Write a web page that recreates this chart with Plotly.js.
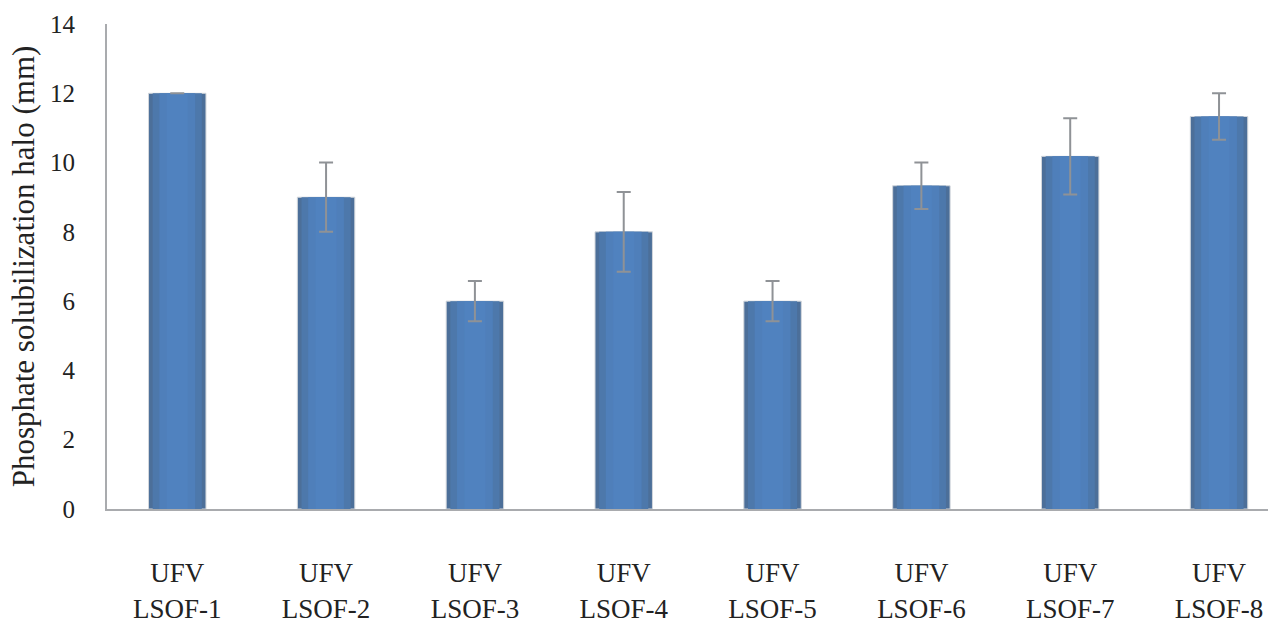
<!DOCTYPE html>
<html>
<head>
<meta charset="utf-8">
<script src="https://cdn.plot.ly/plotly-3.0.1.min.js"></script>
<style>
  html, body { margin: 0; padding: 0; background: #ffffff; }
  #chart { width: 1268px; height: 629px; }
</style>
</head>
<body>
<div id="chart"></div>
<script>
// ---- data ----
const categories = ["UFV LSOF-1", "UFV LSOF-2", "UFV LSOF-3", "UFV LSOF-4",
                    "UFV LSOF-5", "UFV LSOF-6", "UFV LSOF-7", "UFV LSOF-8"];
const tickLabels = ["UFV<br>LSOF-1", "UFV<br>LSOF-2", "UFV<br>LSOF-3", "UFV<br>LSOF-4",
                    "UFV<br>LSOF-5", "UFV<br>LSOF-6", "UFV<br>LSOF-7", "UFV<br>LSOF-8"];
const haloMeans = [12.0, 9.0, 6.0, 8.0, 6.0, 9.33, 10.18, 11.33];
const haloErrors = [0.0, 1.0, 0.58, 1.15, 0.58, 0.67, 1.1, 0.67];
const yTicks = [0, 2, 4, 6, 8, 10, 12, 14];

// ---- styling ----
const serif = "'Liberation Serif', 'Times New Roman', serif";
const xIdx = categories.map((c, i) => i);

// layered bars to imitate the shaded (bevelled) column fill
const layers = [
  { width: 0.386, color: "#4c6f99", line: "#d3d7dc", lw: 1 },
  { width: 0.33,  color: "#4d78ab", line: "rgba(0,0,0,0)", lw: 0 },
  { width: 0.24,  color: "#4f7fba", line: "rgba(0,0,0,0)", lw: 0 },
  { width: 0.14,  color: "#5082bf", line: "rgba(0,0,0,0)", lw: 0 }
];

const traces = layers.map((L, k) => ({
  type: "bar",
  x: xIdx,
  y: haloMeans,
  width: L.width,
  marker: { color: L.color, line: { color: L.line, width: L.lw } },
  hoverinfo: "skip",
  showlegend: false
}));

// error bars on top
traces.push({
  type: "bar",
  x: xIdx,
  y: haloMeans,
  width: 0.001,
  marker: { color: "rgba(0,0,0,0)" },
  error_y: {
    type: "data",
    array: haloErrors,
    visible: true,
    color: "#8f9296",
    thickness: 2,
    width: 7
  },
  hoverinfo: "skip",
  showlegend: false
});

const layout = {
  width: 1268,
  height: 629,
  margin: { l: 107, r: 0, t: 24, b: 120, pad: 0 },
  paper_bgcolor: "#ffffff",
  plot_bgcolor: "#ffffff",
  barmode: "overlay",
  showlegend: false,
  font: { family: serif, color: "#222222" },
  xaxis: {
    range: [-0.472, 7.329],
    tickmode: "array",
    tickvals: xIdx,
    ticktext: tickLabels,
    ticks: "",
    ticklabelstandoff: 39,
    tickfont: { family: serif, size: 27, color: "#222222" },
    showline: true,
    linecolor: "#a9abae",
    linewidth: 2,
    showgrid: false,
    zeroline: false,
    fixedrange: true
  },
  yaxis: {
    range: [0, 14],
    tickmode: "array",
    tickvals: yTicks,
    ticktext: yTicks.map(String),
    ticks: "",
    ticklabelstandoff: 25,
    tickfont: { family: serif, size: 25, color: "#222222" },
    showline: true,
    linecolor: "#a9abae",
    linewidth: 2,
    showgrid: false,
    zeroline: false,
    fixedrange: true,
    title: {
      text: "Phosphate solubilization halo (mm)",
      font: { family: serif, size: 31, color: "#222222" }
    }
  }
};

Plotly.newPlot("chart", traces, layout, { displayModeBar: false, staticPlot: true });
</script>
</body>
</html>
